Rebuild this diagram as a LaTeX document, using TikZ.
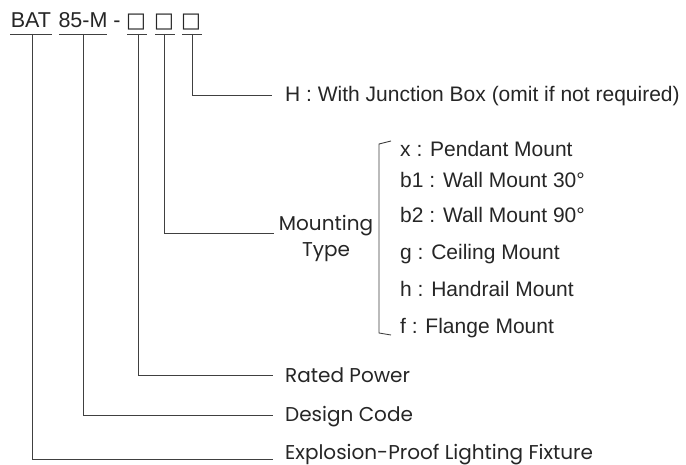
\documentclass[tikz,border=0pt]{standalone}
\usepackage{fontspec}
\setmainfont{Liberation Sans}
\newfontfamily\gothic{Poppins}
\newfontfamily\symfont{DejaVu Sans}
\begin{document}
\begin{tikzpicture}[x=1pt,y=-1pt,
  code/.style={inner sep=0pt, font=\fontsize{21.5}{24}\selectfont, text=black!85},
  sqr/.style={inner sep=0pt, font=\symfont\fontsize{21}{24}\selectfont, text=black!85},
  opt/.style={inner sep=0pt, anchor=base west, font=\fontsize{21}{24}\selectfont, text=black!85},
  gt/.style={inner sep=0pt, font=\gothic\fontsize{20}{26}\selectfont, text=black!85},
  ln/.style={draw=black!75, line width=0.9pt}]
\path[use as bounding box, fill=white] (0,0) rectangle (686,465);
% code
\node[code, anchor=base] (bat) at (31,28) {BAT};
\node[code, anchor=base] (num) at (83,28) {85-M};
\node[code, anchor=base] (dsh) at (117,28) {-};
\node[sqr, anchor=base] (sq1) at (136,28) {□};
\node[sqr, anchor=base] (sq2) at (164,28) {□};
\node[sqr, anchor=base] (sq3) at (191,28) {□};
% underlines
\draw[ln] (10,34) -- (52,34);
\draw[ln] (59,34) -- (107,34);
\draw[ln] (127,34) -- (147,34);
\draw[ln] (155,34) -- (175,34);
\draw[ln] (182,34) -- (202,34);
\coordinate (u1) at (32,34);
\coordinate (u2) at (83,34);
\coordinate (u3) at (138,34);
\coordinate (u4) at (164,34);
\coordinate (u5) at (192,34);
% labels
\node[opt] (hbox) at (285,102) {H : With Junction Box (omit if not required)};
\node[gt, align=center, anchor=north] (mtype) at (326,215) {Mounting\\Type};
\node[gt, anchor=base west] (rated) at (285,382) {Rated Power};
\node[gt, anchor=base west] (design) at (285,421) {Design Code};
\node[gt, anchor=base west] (expl) at (285,459) {Explosion-Proof Lighting Fixture};
% ends of connectors
\coordinate (e5) at (272,95);
\coordinate (e4) at (274,233);
\coordinate (e3) at (273,375);
\coordinate (e2) at (273,415);
\coordinate (e1) at (273,459);
\draw[ln] (u5) |- (e5);
\draw[ln] (u4) |- (e4);
\draw[ln] (u3) |- (e3);
\draw[ln] (u2) |- (e2);
\draw[ln] (u1) |- (e1);
% options
\node[opt] (ox) at (400,157) {x : Pendant Mount};
\node[opt] (ob1) at (400,188) {b1 : Wall Mount 30°};
\node[opt] (ob2) at (400,223) {b2 : Wall Mount 90°};
\node[opt] (og) at (400,260) {g : Ceiling Mount};
\node[opt] (oh) at (400,297) {h : Handrail Mount};
\node[opt] (of) at (400,334) {f : Flange Mount};
% bracket
\draw[ln] (391,141) -- (379,144) -- (379,333) -- (391,335);
\end{tikzpicture}
\end{document}
